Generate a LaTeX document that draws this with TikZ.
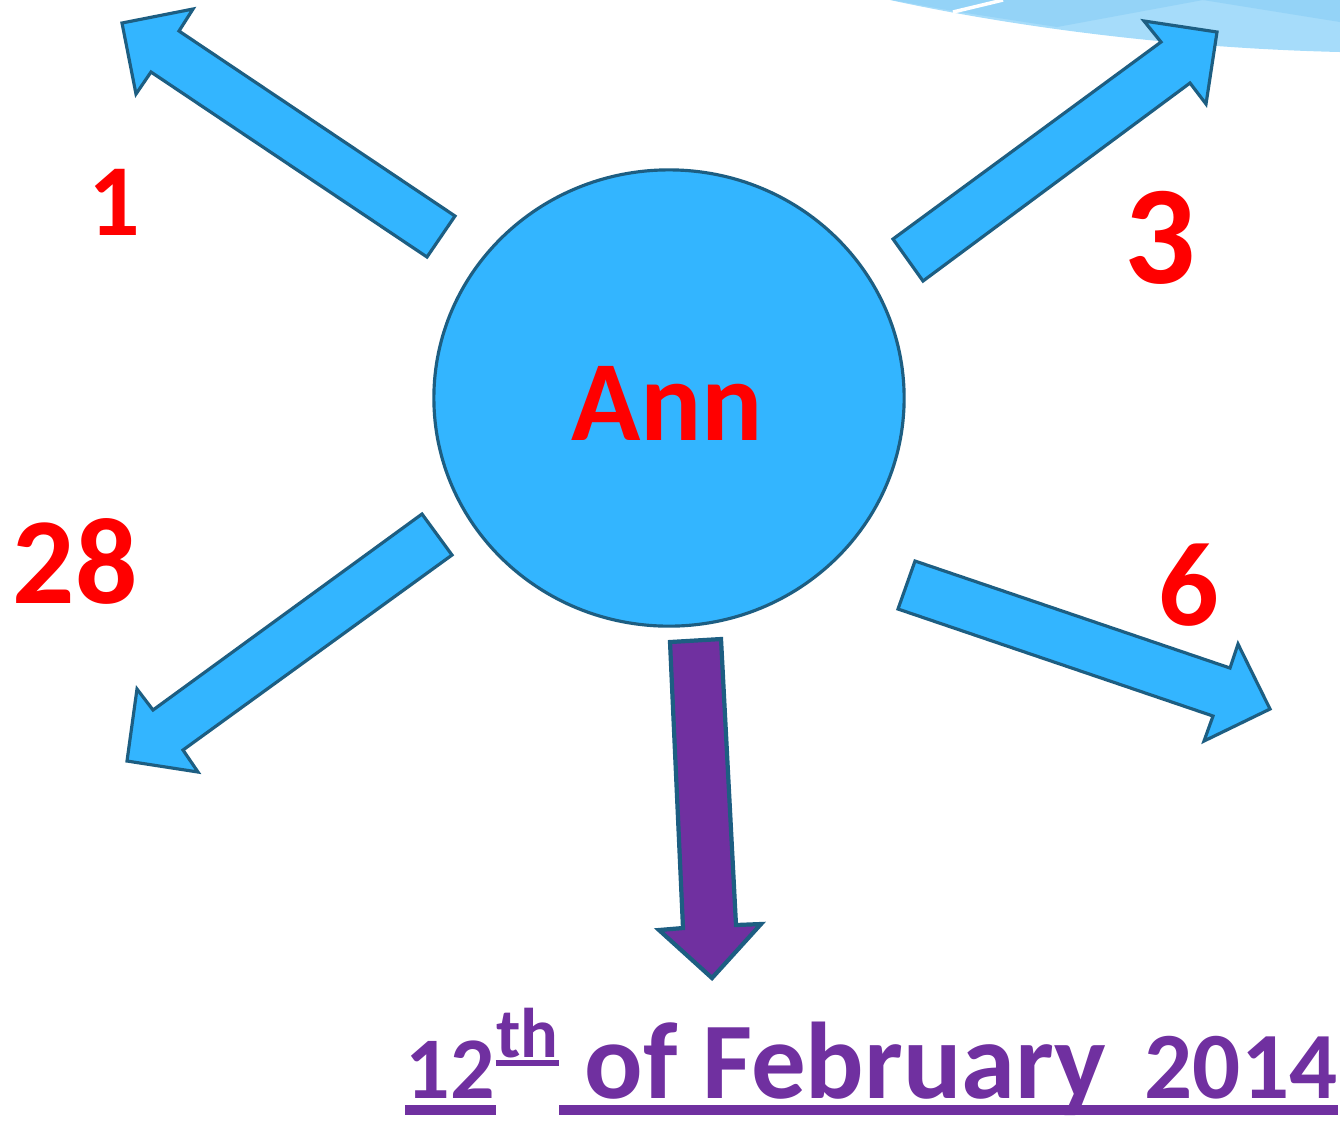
\documentclass[tikz,border=0pt]{standalone}
\usepackage{fontspec}
\setmainfont{Carlito}
\usetikzlibrary{shapes.geometric}
\definecolor{sky}{HTML}{33B5FF}
\definecolor{edge}{HTML}{1D5E82}
\definecolor{plum}{HTML}{7030A0}
\definecolor{swooshA}{HTML}{A6DCFA}
\definecolor{swooshB}{HTML}{94D3F7}
\tikzset{
	blockarrow/.style={fill=sky, draw=edge, line width=0.9pt, line join=miter},
	count/.style={text=red, anchor=base, inner sep=0pt, font=\bfseries\fontsize{#1}{#1}\selectfont},
	datetext/.style={text=plum, anchor=base west, inner sep=0pt, font=\bfseries\fontsize{#1}{#1}\selectfont},
}
\begin{document}
\begin{tikzpicture}[x=0.01cm, y=-0.01cm]
		\useasboundingbox (0,0) rectangle (1340,1120);

		% corner swoosh
		\fill[swooshA] (890,0) .. controls (1010,26) and (1170,48) .. (1340,52) -- (1340,0) -- cycle;
		\fill[swooshB] (892,0) -- (953,11) -- (1057,27) -- (1203,0) -- cycle;
		\fill[swooshB] (1203,0) -- (1340,22) -- (1340,0) -- cycle;
		\draw[white, line width=1pt] (953,12) -- (1003,0);

		\draw[blockarrow] (455,216) -- (179,31) -- (193,9) -- (122,23) -- (136,94) -- (151,72) -- (427,257) -- cycle;
		\draw[blockarrow] (893,239) -- (1161,42) -- (1144,21) -- (1217,32) -- (1206,104) -- (1190,83) -- (923,281) -- cycle;
		\draw[blockarrow] (422,514) -- (153,710) -- (137,689) -- (127,761) -- (198,772) -- (183,750) -- (452,555) -- cycle;
		\draw[blockarrow] (915,561) -- (1230,668) -- (1238,644) -- (1270,709) -- (1204,741) -- (1213,716) -- (898,609) -- cycle;
		\draw[blockarrow, fill=plum, line width=1.2pt] (670,642) -- (683,928) -- (659,930) -- (712,978) -- (761,924) -- (736,925) -- (721,639) -- cycle;

		\node[ellipse, fill=sky, draw=edge, line width=0.9pt, minimum width=4.7cm, minimum height=4.56cm, inner sep=0pt] (ann) at (669,398) {};
		\node[text=red, anchor=base, inner sep=0pt, font=\bfseries\fontsize{32.5}{32.5}\selectfont] (name) at (667,440) {Ann};

		\node[count=29] (one) at (114,235) {1};
		\node[count=40] (three) at (1160,283) {3};
		\node[count=35] (twentyeight) at (75,603) {28};
		\node[count=34] (six) at (1189,625) {6};

		% date, underlined piece by piece
		\node[datetext=25] (d12) at (405,1098) {12};
		\node[datetext=20] (dth) at ([yshift=11.4pt]d12.base east) {th};
		\node[datetext=31] (dmonth) at ([xshift=0.25cm]dth.base east |- d12.base) {of February};
		\node[datetext=27, anchor=base east] (dyear) at (1338,1098) {2014};
		\coordinate (ul) at ([yshift=-3.3pt]d12.base);
		\draw[plum, line width=2.8pt] (ul -| d12.west) -- (ul -| d12.east);
		\draw[plum, line width=1.7pt] ([yshift=-1.4pt]dth.base west) -- ([yshift=-1.4pt]dth.base east);
		\draw[plum, line width=2.8pt] (ul -| dth.east) -- (ul -| dyear.east);
	\end{tikzpicture}
\end{document}
